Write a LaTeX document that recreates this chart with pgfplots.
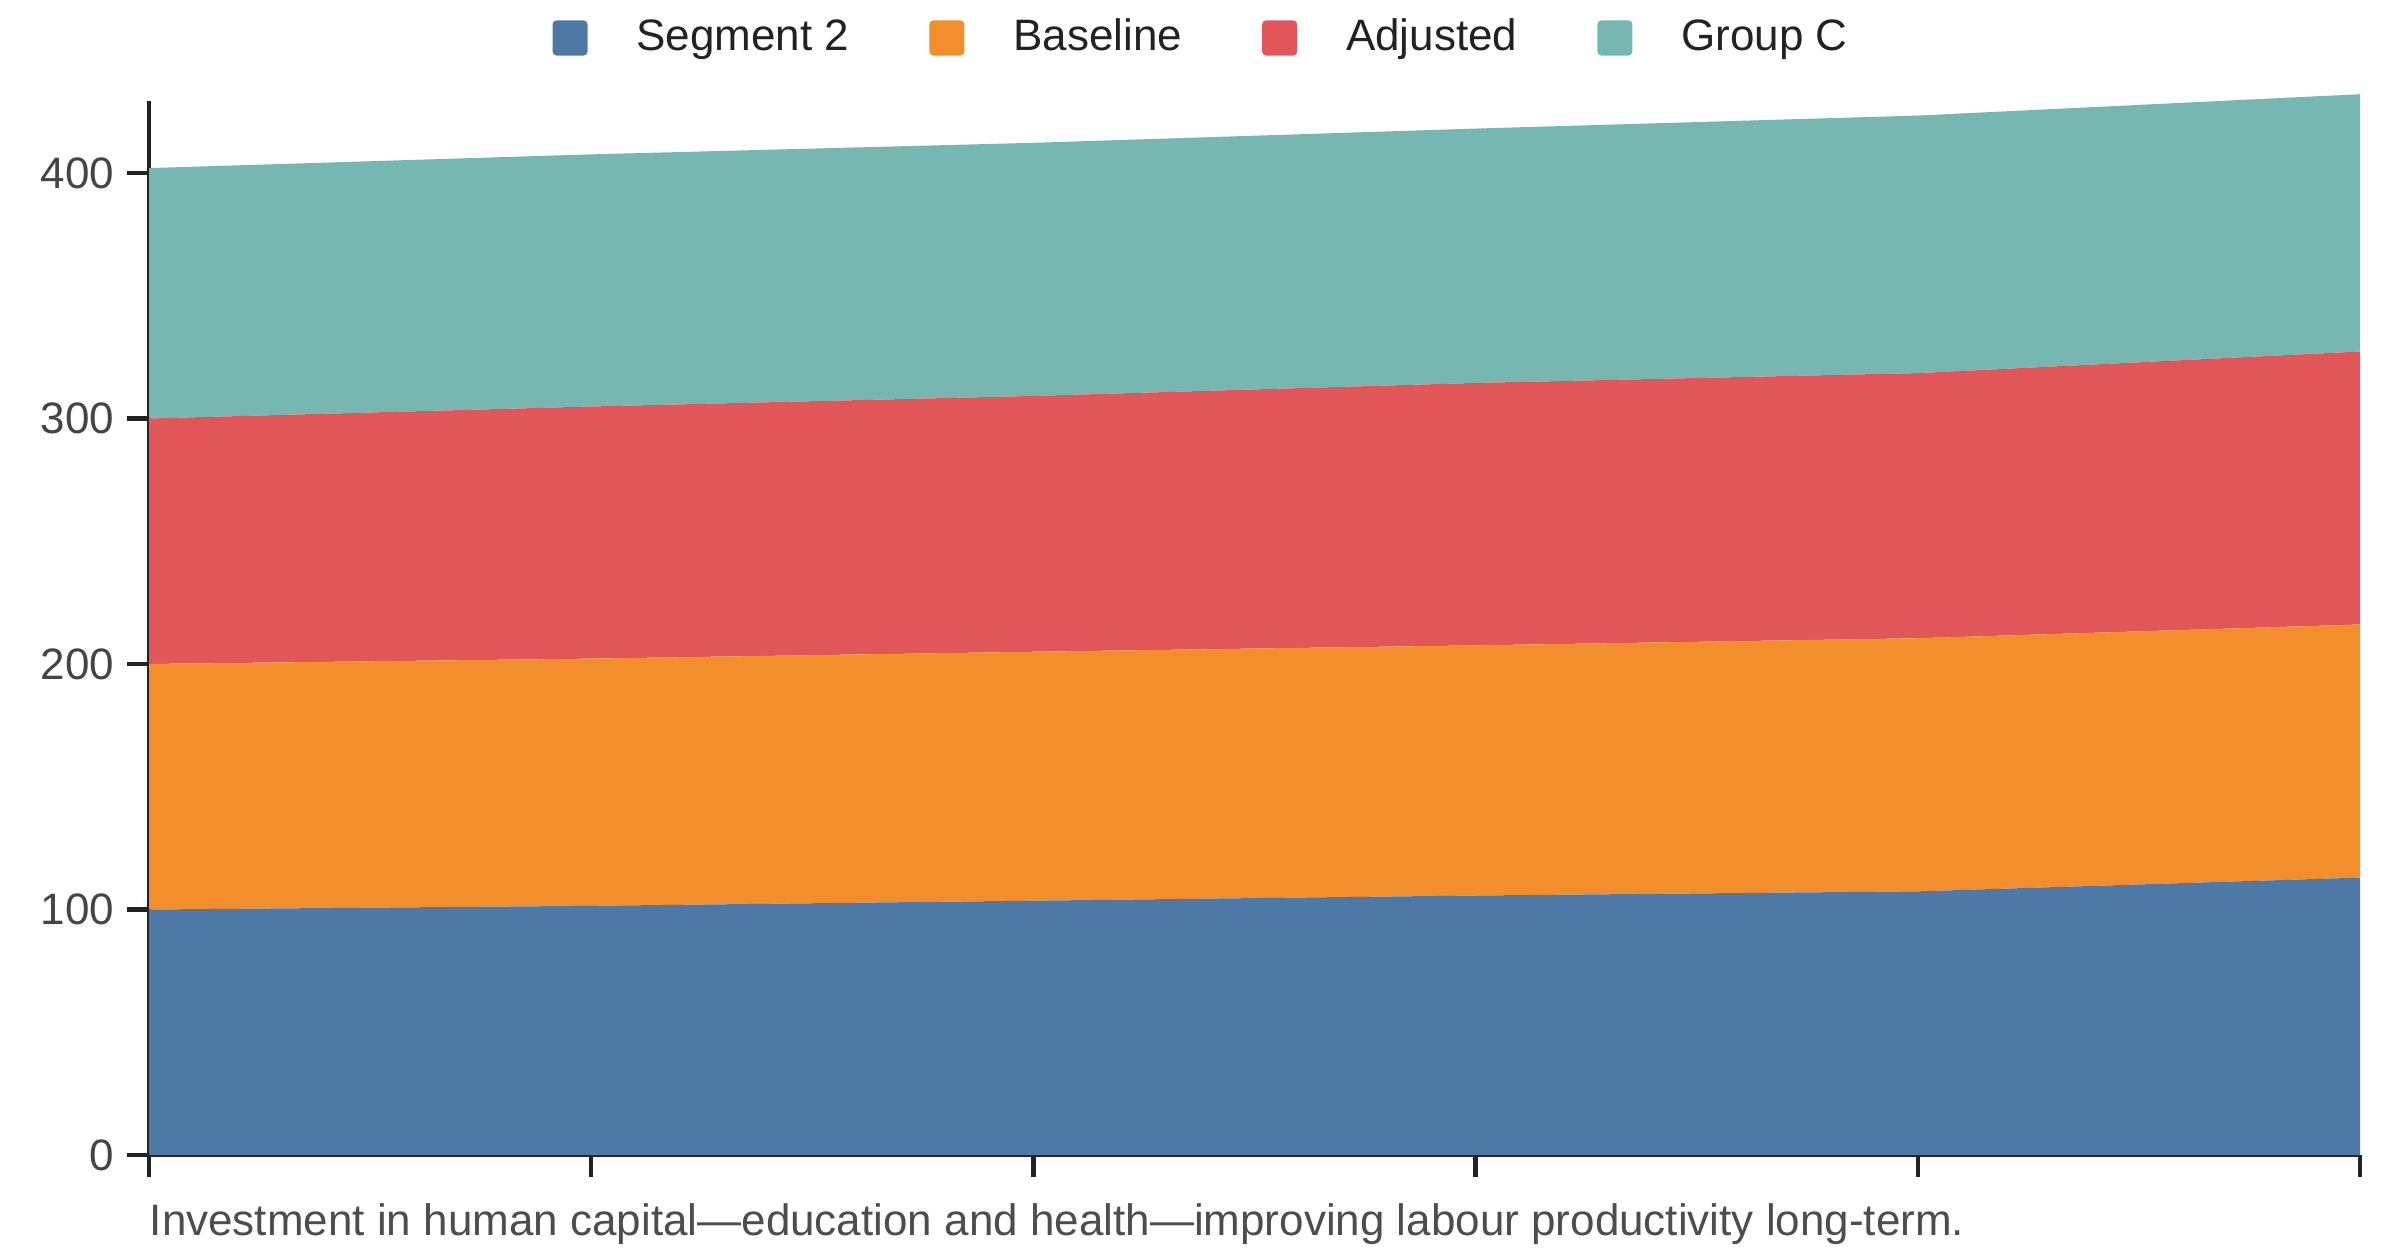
\documentclass[border=0pt]{standalone}
\usepackage{pgfplots}
\pgfplotsset{compat=1.18}
\usepackage{fontspec}
\setmainfont{Liberation Sans}
\definecolor{cBlue}{HTML}{4E79A7}
\definecolor{cOrange}{HTML}{F28E2B}
\definecolor{cRed}{HTML}{E15759}
\definecolor{cTeal}{HTML}{76B7B2}
\definecolor{axisc}{HTML}{222222}
\definecolor{tickc}{HTML}{444444}
\definecolor{capc}{HTML}{4D4D4D}
\begin{document}
\begin{tikzpicture}
\path[use as bounding box] (0,0) rectangle (600pt,314pt);
\begin{axis}[
  at={(37.25pt,25.25pt)}, anchor=south west,
  scale only axis, width=552.75pt, height=263.6pt,
  xmin=0, xmax=5, ymin=0, ymax=429.5,
  clip=false,
  stack plots=y,
  axis lines=left,
  axis line style={-, draw=axisc, line width=1.1pt},
  tick style={draw=axisc, line width=1.1pt},
  tick align=outside,
  major tick length=5.5pt,
  xtick={0,1,2,3,4,5}, xticklabels={},
  ytick={0,100,200,300,400},
  /pgf/number format/assume math mode=true,
  yticklabel style={font=\fontsize{11pt}{13pt}\selectfont, text=tickc, inner xsep=3pt},
  legend columns=-1,
  legend style={at={(0.4754,1.0594)}, anchor=center, draw=none, fill=none,
    font=\fontsize{11pt}{13pt}\selectfont, text=axisc,
    nodes={inner xsep=0pt, inner ysep=1pt},
    /tikz/every odd column/.append style={column sep=12.25pt},
    /tikz/every even column/.append style={column sep=20pt}},
  legend image code/.code={\fill[#1, draw=none, rounded corners=1pt] (0pt,-4.4pt) rectangle (8.75pt,4.4pt);},
]
\addplot[fill=cBlue, draw=none] coordinates {(0,100) (1,101.5) (2,103.6) (3,105.7) (4,107.4) (5,113.0)} \closedcycle;
\addlegendentry{Segment 2}
\addplot[fill=cOrange, draw=none] coordinates {(0,100) (1,100.7) (2,101.4) (3,101.9) (4,103.1) (5,103.1)} \closedcycle;
\addlegendentry{Baseline}
\addplot[fill=cRed, draw=none] coordinates {(0,100) (1,102.7) (2,104.2) (3,106.9) (4,108.0) (5,111.2)} \closedcycle;
\addlegendentry{Adjusted}
\addplot[fill=cTeal, draw=none] coordinates {(0,102) (1,102.7) (2,103.1) (3,103.6) (4,104.9) (5,104.8)} \closedcycle;
\addlegendentry{Group C}
\end{axis}
\node[anchor=base west, inner sep=0pt, text=capc, font=\fontsize{11pt}{13pt}\selectfont] at (37.25pt,5.25pt) {Investment in human capital---education and health---improving labour productivity long-term.};
\end{tikzpicture}
\end{document}
